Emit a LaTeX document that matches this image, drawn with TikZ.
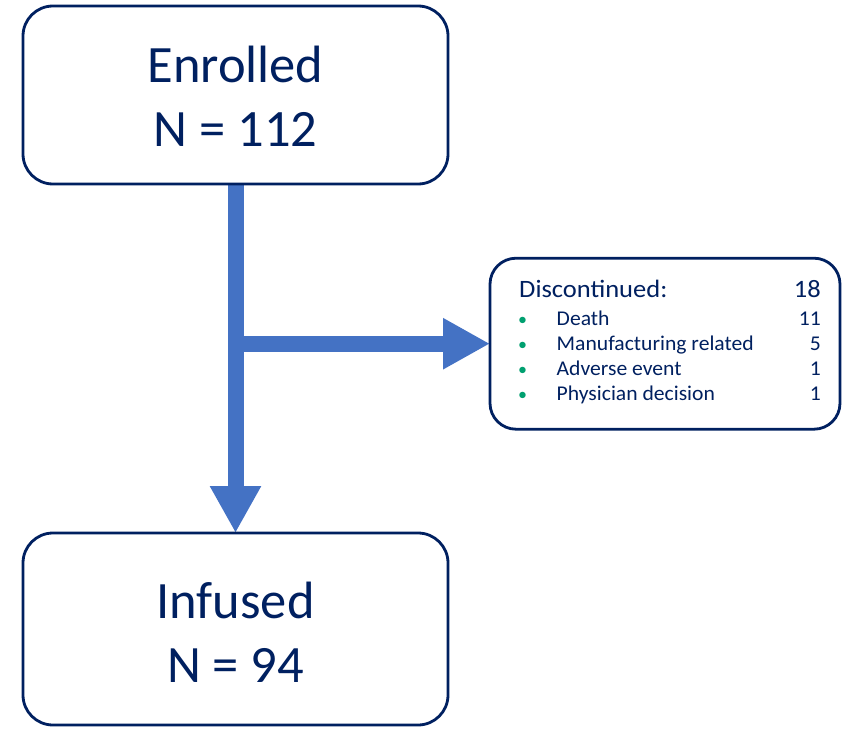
\documentclass[tikz,border=0pt]{standalone}
\usepackage{fontspec}
\setmainfont{Carlito}
\newfontfamily\headfont[FakeStretch=1.06]{Carlito}
\newfontfamily\itemfont[FakeStretch=1.03]{Carlito}
\usetikzlibrary{arrows.meta,backgrounds}
\definecolor{navy}{HTML}{002060}
\definecolor{arrowblue}{HTML}{4472C4}
\definecolor{bulletgreen}{HTML}{00A070}
\tikzset{
  box/.style={draw=navy, line width=2.8pt, rounded corners=30pt, fill=white, inner sep=0pt, outer sep=0pt},
  bigtxt/.style={text=navy, font=\fontsize{52.5}{62}\selectfont, inner sep=0pt, anchor=base},
  headtxt/.style={text=navy, font=\headfont\fontsize{25}{28}\selectfont, inner sep=0pt},
  itemtxt/.style={text=navy, font=\itemfont\fontsize{21}{24}\selectfont, inner sep=0pt},
  bullettxt/.style={text=bulletgreen, font=\fontsize{18}{24}\selectfont, inner sep=0pt, anchor=base},
  flow/.style={draw=arrowblue, line width=16pt, -{Triangle[length=47pt,width=48pt]}},
}
\begin{document}
\begin{tikzpicture}[x=1pt,y=-1pt]
\useasboundingbox (0,0) rectangle (843,728);
% boxes
\node[box, minimum width=425pt, minimum height=178pt] (enr) at (235.5,95) {};
\node[box, minimum width=425pt, minimum height=192pt] (inf) at (235.5,629) {};
\node[box, rounded corners=26pt, minimum width=350pt, minimum height=171pt] (disc) at (665,343.7) {};
% box texts
\node[bigtxt] (enrA) at (235.5,82) {Enrolled};
\node[bigtxt] (enrB) at (235.5,146) {N = 112};
\node[bigtxt] (infA) at (235.5,618) {Infused};
\node[bigtxt] (infB) at (235.5,682) {N = 94};
% discontinued list
\node[headtxt, anchor=base west] (dh) at (519,297.7) {Discontinued:};
\node[headtxt, anchor=base east] (dn) at (821,297.7) {18};
\foreach \i/\lab/\num/\y in {1/Death/11/325,2/Manufacturing related/5/350,3/Adverse event/1/375.5,4/Physician decision/1/400.7}{
  \node[bullettxt] (b\i) at (522.7,\y) {•};
  \node[itemtxt, anchor=base west] (t\i) at (556.5,\y) {\lab};
  \node[itemtxt, anchor=base east] (n\i) at (821,\y) {\num};
}
% arrows
\coordinate (j) at (235.5,343.7);
\begin{scope}[on background layer]
\draw[flow] (enr.south) -- (inf.north);
\draw[flow] (j) -- (j -| disc.west);
\end{scope}
\end{tikzpicture}
\end{document}
